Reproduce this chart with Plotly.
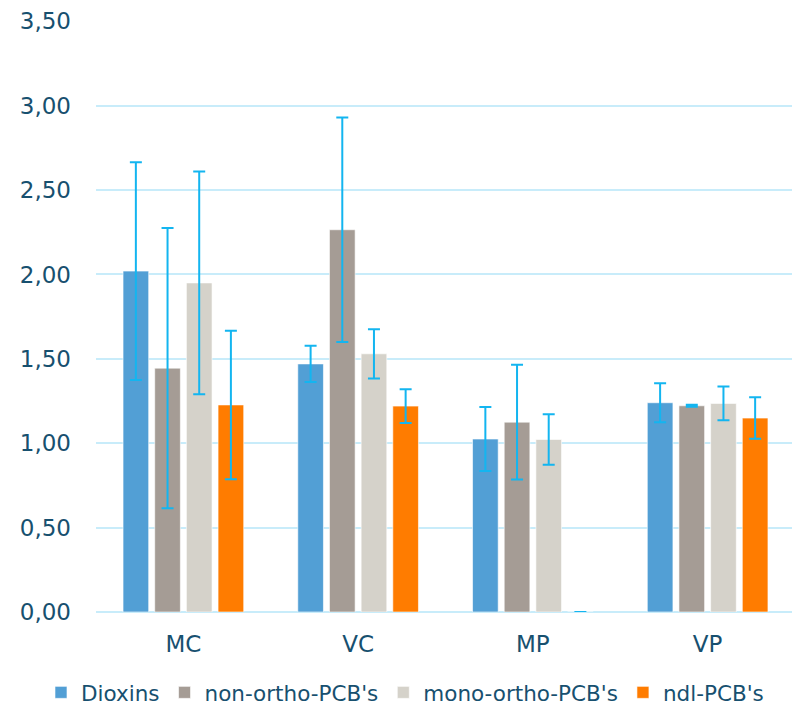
import plotly.graph_objects as go

categories = ["MC", "VC", "MP", "VP"]
series_names = ["Dioxins", "non-ortho-PCB's", "mono-ortho-PCB's", "ndl-PCB's"]

dioxins = [2.02, 1.47, 1.025, 1.24]
dioxins_err = [0.645, 0.107, 0.19, 0.115]
non_ortho = [1.445, 2.265, 1.125, 1.222]
non_ortho_err = [0.83, 0.665, 0.34, 0.006]
mono_ortho = [1.95, 1.53, 1.022, 1.236]
mono_ortho_err = [0.66, 0.146, 0.15, 0.1]
ndl = [1.227, 1.22, 0.0, 1.149]
ndl_err = [0.44, 0.1, 0.0, 0.123]

colors = ["#529FD5", "#A59C95", "#D5D2CA", "#FF7C00"]
values = [dioxins, non_ortho, mono_ortho, ndl]
errors = [dioxins_err, non_ortho_err, mono_ortho_err, ndl_err]

text_color = "#17506F"
grid_color = "#C8ECFA"
err_color = "#13B5F0"

fig = go.Figure()
for name, vals, errs, col in zip(series_names, values, errors, colors):
    fig.add_trace(go.Bar(
        name=name, x=categories, y=vals,
        marker=dict(color=col, line=dict(color="rgba(255,255,255,0.6)", width=1)),
        error_y=dict(type="data", array=errs, visible=True, color=err_color,
                     thickness=2, width=6),
    ))

fig.update_layout(
    width=792, height=701,
    barmode="group", bargap=0.275, bargroupgap=0.19,
    plot_bgcolor="white", paper_bgcolor="white",
    separators=",.",
    margin=dict(l=88, r=5, t=13, b=97, autoexpand=False),
    font=dict(family="DejaVu Sans", size=23, color=text_color),
    showlegend=True,
    legend=dict(orientation="h", x=-0.0787, xanchor="left",
                y=-0.136, yanchor="middle",
                font=dict(size=21.5, color=text_color), itemwidth=30,
                tracegroupgap=0, bgcolor="rgba(0,0,0,0)"),
)
fig.update_yaxes(range=[0, 3.502], dtick=0.5, tick0=0, tickformat=".2f",
                 showgrid=True, gridcolor=grid_color, gridwidth=2,
                 zeroline=True, zerolinecolor=grid_color, zerolinewidth=2,
                 ticks="", ticklabelstandoff=24, tickfont=dict(size=23))
fig.update_xaxes(showgrid=False, showline=False, ticks="",
                 tickfont=dict(size=23), ticklabelstandoff=16)

fig.write_html("out.html")
